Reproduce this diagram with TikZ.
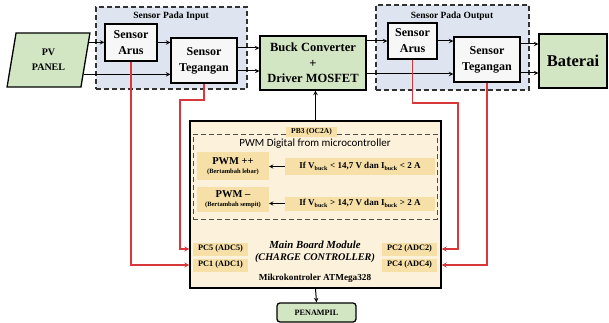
\documentclass[tikz,border=0pt]{standalone}
\usepackage{fontspec}
\setmainfont{Liberation Serif}
\newfontfamily\calibri{Carlito}
\usetikzlibrary{shapes.geometric,calc}
\definecolor{boxgreen}{HTML}{D3E6C3}
\definecolor{groupblue}{HTML}{DEE5F1}
\definecolor{boardcream}{HTML}{FCF1DA}
\definecolor{tagyellow}{HTML}{F6E0A8}
\definecolor{wirered}{HTML}{D8383C}
\begin{document}
\begin{tikzpicture}[x=1pt, y=-1pt,
        every node/.style={font=\bfseries},
        group/.style={rectangle, draw=black!80, dashed, line width=1.1pt,
            fill=groupblue, dash pattern=on 5pt off 3pt},
        sensor/.style={rectangle, draw, line width=1.3pt, fill=gray!6,
            align=center, inner sep=0pt, font=\bfseries\fontsize{12}{16}\selectfont},
        block/.style={rectangle, draw, line width=1.3pt, fill=boxgreen,
            align=center, inner sep=0pt},
        tag/.style={rectangle, fill=tagyellow, inner sep=0pt, align=center},
        arrow/.style={->, >=stealth, line width=1pt},
        wire/.style={->, >=stealth, line width=1.2pt, draw=wirered}
      ]
      \useasboundingbox (0,0) rectangle (609,323);

      % input side
      \node[trapezium, trapezium left angle=78, trapezium right angle=102,
        trapezium stretches=true, draw, line width=1.3pt, fill=boxgreen,
        minimum width=83pt, minimum height=54pt, align=center, inner sep=0pt,
        font=\bfseries\fontsize{10}{15}\selectfont]
      (pv) at (48.5,60) {PV\\PANEL};

      \node[group, minimum width=151pt, minimum height=82pt]
      (ingrp) at (171.5,48) {};
      \node[font=\bfseries\fontsize{9.5}{11}\selectfont]
      (intitle) at (171,16) {Sensor Pada Input};
      \node[sensor, minimum width=52pt, minimum height=37pt]
      (arusin) at (131,42.5) {Sensor\\Arus};
      \node[sensor, minimum width=66pt, minimum height=45pt]
      (tegin) at (204,60.5) {Sensor\\Tegangan};

      \node[block, minimum width=106pt, minimum height=54pt,
        font=\bfseries\fontsize{12.5}{15.5}\selectfont]
      (buck) at (313,63) {Buck Converter\\+\\Driver MOSFET};

      % output side
      \node[group, minimum width=153pt, minimum height=85pt]
      (outgrp) at (452.5,47.5) {};
      \node[font=\bfseries\fontsize{9.5}{11}\selectfont]
      (outtitle) at (452,16) {Sensor Pada Output};
      \node[sensor, minimum width=49pt, minimum height=36pt]
      (arusout) at (412.5,41) {Sensor\\Arus};
      \node[sensor, minimum width=66pt, minimum height=45pt]
      (tegout) at (487,59.5) {Sensor\\Tegangan};

      \node[block, minimum width=68pt, minimum height=54pt,
        font=\bfseries\fontsize{16.5}{18}\selectfont]
      (bat) at (573,61) {Baterai};

      \coordinate (pvout1) at ($(pv.top right corner)!0.18!(pv.bottom right corner)$);
      \coordinate (pvout2) at ($(pv.top right corner)!0.76!(pv.bottom right corner)$);
      \draw[arrow] (pvout1) -- (pvout1 -| arusin.west);
      \draw[arrow] (pvout2) -- (pvout2 -| tegin.west);
      \draw[arrow] (arusin.east) -- (arusin.east -| tegin.west);
      \draw[arrow] ([yshift=12.5pt]tegin.east) coordinate (t1) -- (t1 -| buck.west);
      \draw[arrow] ([yshift=-10.5pt]tegin.east) coordinate (t2) -- (t2 -| buck.west);
      \draw[arrow] (arusout.west -| buck.east) -- (arusout.west);
      \draw[arrow] ([yshift=-11pt]buck.east) coordinate (b2) -- (b2 -| tegout.west);
      \draw[arrow] (arusout.east) -- (arusout.east -| tegout.west);
      \draw[arrow] ([yshift=15.5pt]tegout.east) coordinate (t3) -- (t3 -| bat.west);
      \draw[arrow] ([yshift=-13.5pt]tegout.east) coordinate (t4) -- (t4 -| bat.west);

      % main board
      \node[rectangle, draw, line width=1.3pt, fill=boardcream,
        minimum width=251pt, minimum height=167pt]
      (board) at (315.5,204.5) {};
      \node[rectangle, draw=black!70, dashed, line width=0.8pt,
        dash pattern=on 5pt off 3pt, minimum width=244pt, minimum height=85pt]
      (pwmgrp) at (315,176.5) {};
      \node[tag, minimum width=51pt, minimum height=10pt,
        font=\bfseries\fontsize{7.5}{8}\selectfont]
      (pb3) at (311.5,132) {PB3 (OC2A)};
      \node[font=\calibri\fontsize{11}{12}\selectfont]
      (pwmtitle) at (315,143.5) {PWM Digital from microcontroller};

      \node[tag, minimum width=72pt, minimum height=28pt,
        font=\bfseries\fontsize{10.5}{10}\selectfont]
      (pwmup) at (233,166) {PWM ++\\[-1pt]{\fontsize{6.5}{7}\selectfont (Bertambah lebar)}};
      \node[tag, minimum width=150pt, minimum height=17pt,
        font=\bfseries\fontsize{9}{10}\selectfont]
      (cond1) at (360,166.5)
      {If V\textsubscript{buck} < 14,7 V dan I\textsubscript{buck} < 2 A};
      \node[tag, minimum width=72pt, minimum height=25pt,
        font=\bfseries\fontsize{10.5}{10}\selectfont]
      (pwmdown) at (233,199.5) {PWM --\\[-1pt]{\fontsize{6.5}{7}\selectfont (Bertambah sempit)}};
      \node[tag, minimum width=150pt, minimum height=14pt,
        font=\bfseries\fontsize{9}{10}\selectfont]
      (cond2) at (360,203.5)
      {If V\textsubscript{buck} > 14,7 V dan I\textsubscript{buck} > 2 A};

      \draw[arrow, line width=0.8pt] (cond1.west) -- (cond1.west -| pwmup.east);
      \draw[arrow, line width=0.8pt] (cond2.west) -- (cond2.west -| pwmdown.east);

      \foreach \name/\x/\y/\txt in {pc5/220.5/249/PC5 (ADC5), pc1/220.5/265/PC1 (ADC1),
          pc2/409.5/249/PC2 (ADC2), pc4/409.5/265/PC4 (ADC4)}{
          \node[tag, minimum width=55pt, minimum height=13pt,
            font=\bfseries\fontsize{8.3}{9}\selectfont]
          (\name) at (\x,\y) {\txt};
        }

      \node[font=\bfseries\itshape\fontsize{10.8}{12}\selectfont]
      (mbm) at (315,245) {Main Board Module};
      \node[font=\bfseries\itshape\fontsize{10.2}{12}\selectfont]
      (ccl) at (315,258) {(CHARGE CONTROLLER)};
      \node[font=\bfseries\fontsize{9.2}{10}\selectfont]
      (mkr) at (315,278) {Mikrokontroler ATMega328};

      \node[rectangle, draw, line width=1.3pt, fill=boxgreen, rounded corners=3pt,
        minimum width=79pt, minimum height=19pt,
        font=\bfseries\fontsize{8.2}{9}\selectfont]
      (pen) at (316.5,312.5) {PENAMPIL};

      \draw[arrow] (board.north) -- (board.north |- buck.south);
      \draw[arrow] (board.south) -- (pen.north);

      % sensor wires
      \coordinate (tegbend) at (180,100);
      \coordinate (arusbend) at (458,103);
      \draw[wire] (arusin.south) |- (board.west |- pc1);
      \draw[wire] (tegin.south) |- (tegbend) |- (board.west |- pc5);
      \draw[wire] (arusout.south) |- (arusbend) |- (board.east |- pc2);
      \draw[wire] (tegout.south) |- (board.east |- pc4);
    \end{tikzpicture}
\end{document}
